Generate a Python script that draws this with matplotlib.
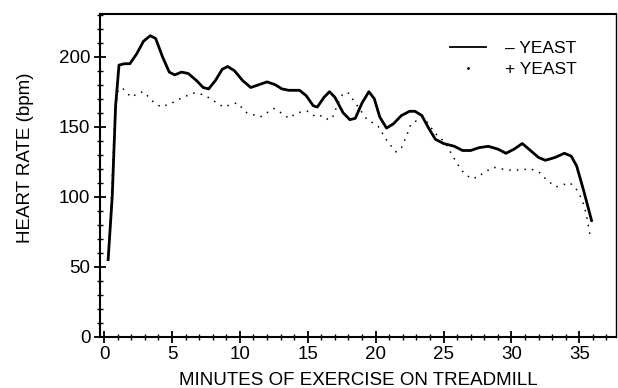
import matplotlib
matplotlib.use("Agg")
import matplotlib.pyplot as plt
from matplotlib.lines import Line2D
from matplotlib.ticker import MultipleLocator

plt.rcParams['font.family'] = ['Liberation Sans', 'DejaVu Sans']

# - YEAST (solid)
minus_x = [0.3, 0.6, 0.85, 1.1, 1.5, 1.9, 2.4, 2.9, 3.4, 3.8, 4.3, 4.8, 5.2, 5.7, 6.2,
           6.8, 7.3, 7.7, 8.2, 8.7, 9.1, 9.6, 10.2, 10.8, 11.4, 12.0, 12.6, 13.1, 13.6,
           14.4, 14.9, 15.4, 15.7, 16.2, 16.6, 17.0, 17.6, 18.1, 18.5, 19.0, 19.5, 19.9,
           20.3, 20.8, 21.3, 21.9, 22.5, 22.9, 23.4, 23.9, 24.4, 25.0, 25.8, 26.4, 27.0,
           27.6, 28.3, 29.0, 29.6, 30.2, 30.8, 31.4, 32.0, 32.5, 33.2, 33.9, 34.4, 34.8,
           35.3, 35.9]
minus_y = [55, 100, 165, 194, 195, 195, 202, 211, 215, 213, 200, 189, 187, 189, 188,
           183, 178, 177, 183, 191, 193, 190, 183, 178, 180, 182, 180, 177, 176,
           176, 172, 165, 164, 171, 175, 171, 160, 155, 156, 167, 175, 170,
           157, 149, 152, 158, 161, 161, 158, 149, 141, 138, 136, 133, 133,
           135, 136, 134, 131, 134, 138, 133, 128, 126, 128, 131, 129, 122,
           105, 83]

# + YEAST (dotted)
plus_x = [0.3, 0.55, 0.8, 1.05, 1.4, 2.0, 2.5, 2.9, 3.6, 4.2, 5.0, 5.8, 6.6, 7.3, 8.0,
          8.8, 9.4, 9.8, 10.5, 11.5, 12.5, 13.2, 13.6, 14.2, 15.0, 15.6, 16.1, 16.5,
          16.8, 17.2, 17.6, 18.0, 18.2, 18.5, 19.3, 20.2, 20.9, 21.5, 21.9, 22.3, 22.6,
          23.5, 24.4, 25.1, 25.8, 26.3, 27.0, 27.6, 27.9, 28.7, 29.7, 30.6, 31.4, 32.1,
          32.7, 33.3, 34.3, 34.8, 35.2, 35.5, 35.8]
plus_y = [55, 100, 160, 177, 177, 171, 174, 175, 168, 164, 167, 171, 174, 173, 169,
          164, 166, 167, 160, 157, 163, 159, 156, 160, 161, 157, 158, 155,
          156, 166, 174, 174, 171, 167, 156, 150, 139, 132, 135, 144, 152,
          157, 145, 139, 127, 119, 113, 114, 117, 121, 119, 119, 120, 117,
          111, 107, 110, 105, 98, 88, 72]

x_ticks = [0, 5, 10, 15, 20, 25, 30, 35]
y_ticks = [0, 50, 100, 150, 200]
x_label = "MINUTES OF EXERCISE ON TREADMILL"
y_label = "HEART RATE (bpm)"
labels = ["\u2013 YEAST", "+ YEAST"]

fig = plt.figure(figsize=(6.18, 3.88), dpi=100)
ax = fig.add_axes([100/618, 1 - 336.7/388, 516/618, (336.7 - 14)/388])

ax.plot(minus_x, minus_y, color='black', lw=2.0, solid_joinstyle='round')
ax.plot(plus_x, plus_y, color='black', lw=1.1, linestyle=(0, (1, 4)))

ax.set_xlim(-0.3, 37.7)
ax.set_ylim(0, 230.5)
ax.set_xticks(x_ticks)
ax.set_yticks(y_ticks)
ax.xaxis.set_minor_locator(MultipleLocator(1))
ax.yaxis.set_minor_locator(MultipleLocator(10))
ax.tick_params(which='major', direction='inout', length=8, width=1.3, labelsize=13.5, pad=3)
ax.tick_params(which='minor', direction='inout', length=5, width=1.0)
ax.tick_params(axis='y', which='both', right=False)
ax.tick_params(axis='x', which='both', top=False)

for s in ['left', 'bottom', 'top']:
    ax.spines[s].set_linewidth(1.5)
ax.spines['right'].set_linewidth(1.0)

ax.set_xlabel(x_label, fontsize=13.5, labelpad=6)
ax.set_ylabel(y_label, fontsize=13.5)
ax.yaxis.set_label_coords(-0.128, 0.554)

handles = [Line2D([], [], color='black', lw=1.3),
           Line2D([], [], color='black', lw=0, marker='.', markersize=2)]
leg = ax.legend(handles, labels, loc='upper right', frameon=False, fontsize=12.5,
                handlelength=2.1, handletextpad=1.1, labelspacing=0.35,
                bbox_to_anchor=(0.955, 0.965))

fig.savefig("out.png", dpi=100)
